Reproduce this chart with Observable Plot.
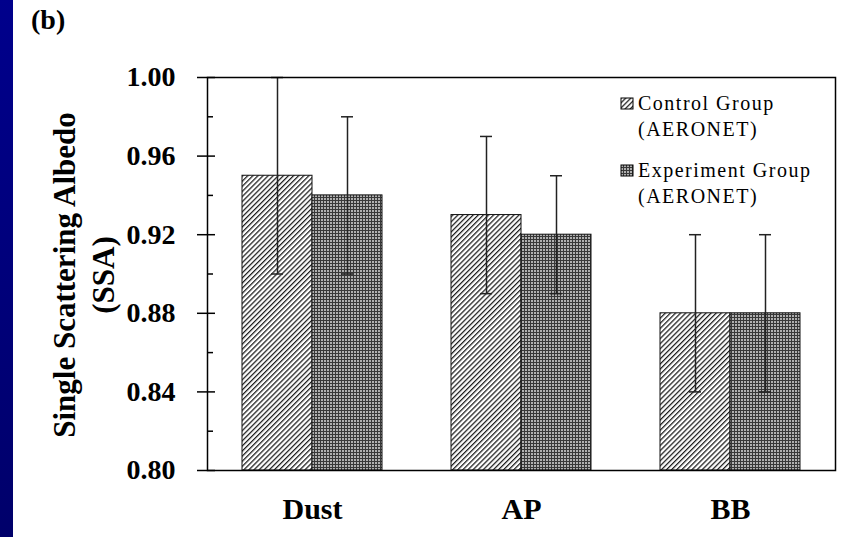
<!DOCTYPE html>
<html><head><meta charset="utf-8">
<script src="https://cdn.jsdelivr.net/npm/d3@7"></script>
<script src="https://cdn.jsdelivr.net/npm/@observablehq/plot@0.6"></script>
<style>
body{margin:0;background:#fff;}
#wrap{position:relative;width:846px;height:537px;overflow:hidden;background:#fff;font-family:'Liberation Serif','Times New Roman',serif;}
#strip{position:absolute;left:0;top:0;width:13px;height:537px;background:linear-gradient(160deg,#00008c,#00006a);}
#chart{position:absolute;left:0;top:0;}
#over{position:absolute;left:0;top:0;pointer-events:none;font-family:'Liberation Serif','Times New Roman',serif;}
</style></head><body>
<svg width="0" height="0" style="position:absolute">
  <defs>
    <pattern id="hatch" patternUnits="userSpaceOnUse" width="3.6" height="3.6" patternTransform="rotate(45)">
      <rect width="3.6" height="3.6" fill="#fff"/>
      <rect x="0" y="0" width="1.25" height="3.6" fill="#1a1a1a"/>
    </pattern>
    <pattern id="checker" patternUnits="userSpaceOnUse" width="3" height="3">
      <rect width="3" height="3" fill="#383838"/>
      <rect x="0" y="0" width="2" height="2" fill="#b0b0b0"/>
    </pattern>
  </defs>
</svg>
<div id="wrap">
  <div id="strip"></div>
  <div id="chart"></div>
  <svg id="over" width="846" height="537" fill="#000">
    <text x="31" y="29" font-size="28" font-weight="bold">(b)</text>
    <text transform="translate(75,275) rotate(-90)" text-anchor="middle" font-size="31" font-weight="bold">Single Scattering Albedo</text>
    <text transform="translate(114,275) rotate(-90)" text-anchor="middle" font-size="31" font-weight="bold">(SSA)</text>
    <g id="legend" font-size="20" letter-spacing="1.5"></g>
  </svg>
</div>
<script>
const categories = ["Dust", "AP", "BB"];
const groupNames = ["Control Group", "Experiment Group"];
const groupSub = "(AERONET)";
const controlSSA = [0.95, 0.93, 0.88];
const controlLow = [0.90, 0.89, 0.84];
const controlHigh = [1.00, 0.97, 0.92];
const experimentSSA = [0.94, 0.92, 0.88];
const experimentLow = [0.90, 0.89, 0.84];
const experimentHigh = [0.98, 0.95, 0.92];
const yMajorTicks = [0.80, 0.84, 0.88, 0.92, 0.96, 1.00];
const yMinorTicks = [0.82, 0.86, 0.90, 0.94, 0.98];
const yDomain = [0.80, 1.00];

const control = categories.map((c, i) => ({category: c, value: controlSSA[i], low: controlLow[i], high: controlHigh[i]}));
const experiment = categories.map((c, i) => ({category: c, value: experimentSSA[i], low: experimentLow[i], high: experimentHigh[i]}));

const W = 846, H = 537, ML = 207, MR = 11, MT = 77, MB = 67;
const plotW = W - ML - MR;
const half = 70;
const serif = "'Liberation Serif', 'Times New Roman', serif";

const chart = Plot.plot({
  width: W, height: H,
  marginLeft: ML, marginRight: MR, marginTop: MT, marginBottom: MB,
  style: {fontFamily: serif, background: "transparent", color: "#000"},
  x: {domain: categories, paddingInner: 0.331, paddingOuter: 0.1655},
  y: {domain: yDomain},
  marks: [
    Plot.barY(control, {x: "category", y1: yDomain[0], y2: "value", fill: "url(#hatch)", stroke: "#111", strokeWidth: 1, insetRight: half}),
    Plot.barY(experiment, {x: "category", y1: yDomain[0], y2: "value", fill: "url(#checker)", stroke: "#111", strokeWidth: 1, insetLeft: half}),
    Plot.ruleX(control, {x: "category", y1: "low", y2: "high", dx: -35, stroke: "#222", strokeWidth: 1.5}),
    Plot.ruleX(experiment, {x: "category", y1: "low", y2: "high", dx: 35, stroke: "#222", strokeWidth: 1.5}),
    Plot.tickY(control, {x: "category", y: "low", insetLeft: 29, insetRight: 99, stroke: "#222", strokeWidth: 1.5}),
    Plot.tickY(control, {x: "category", y: "high", insetLeft: 29, insetRight: 99, stroke: "#222", strokeWidth: 1.5}),
    Plot.tickY(experiment, {x: "category", y: "low", insetLeft: 99, insetRight: 29, stroke: "#222", strokeWidth: 1.5}),
    Plot.tickY(experiment, {x: "category", y: "high", insetLeft: 99, insetRight: 29, stroke: "#222", strokeWidth: 1.5}),
    Plot.frame({stroke: "#000", strokeWidth: 1.5}),
    Plot.ruleY(yMajorTicks, {insetLeft: -10, insetRight: plotW - 8, stroke: "#000", strokeWidth: 1.5}),
    Plot.ruleY(yMinorTicks, {insetRight: plotW - 6, stroke: "#000", strokeWidth: 1.5}),
    Plot.axisY(yMajorTicks, {tickSize: 0, tickPadding: 32, fontSize: 28, fontWeight: "bold", fontFamily: serif, tickFormat: d3.format(".2f"), label: null, fill: "#000"}),
    Plot.axisX({tickSize: 0, tickPadding: 27, fontSize: 30, fontWeight: "bold", fontFamily: serif, label: null, fill: "#000"})
  ]
});
document.getElementById("chart").appendChild(chart);

// legend
const lg = d3.select("#legend");
const legendRows = [
  {fill: "url(#hatch)", name: groupNames[0], sy: 98, ty: 110},
  {fill: "url(#checker)", name: groupNames[1], sy: 165, ty: 177}
];
legendRows.forEach(r => {
  lg.append("rect").attr("x", 621).attr("y", r.sy).attr("width", 12).attr("height", 11)
    .attr("fill", r.fill).attr("stroke", "#000").attr("stroke-width", 1);
  lg.append("text").attr("x", 638).attr("y", r.ty).text(r.name);
  lg.append("text").attr("x", 638).attr("y", r.ty + 26).text(groupSub);
});
</script>
</body></html>
